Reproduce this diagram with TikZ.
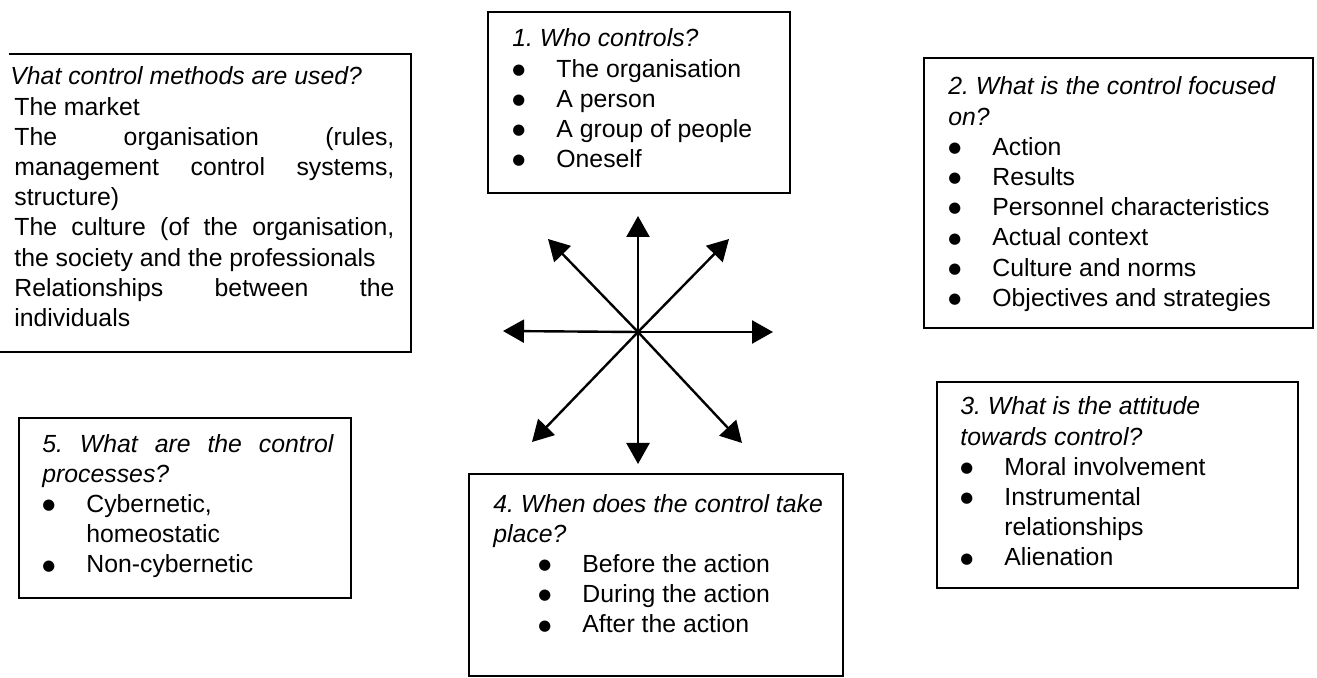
\documentclass[tikz,border=0pt]{standalone}
\usepackage{fontspec}
\setmainfont{Liberation Sans}
\newfontfamily\dotfont{DejaVu Sans}
\usetikzlibrary{arrows.meta}
\frenchspacing

% list helpers: a bullet with its hanging text, and a continuation line
\newcommand\bigdot{\raisebox{1.4pt}{\dotfont\fontsize{7.4}{7.4}\selectfont ●}}
\newcommand\bul[2][0pt]{\hspace*{#1}\makebox[22pt][l]{\bigdot}#2}
\newcommand\cont[1][0pt]{\hspace*{\dimexpr#1+22pt\relax}}
\newcommand\lh{\fontsize{12.4}{15.1}\selectfont}

\tikzset{
  boxline/.style={line width=1.1pt},
  txt/.style={anchor=base west, inner sep=0pt, font=\lh},
  spoke/.style={line width=1.2pt, -{Triangle[length=10.5pt,width=11.5pt]}},
}

\begin{document}
\begin{tikzpicture}[x=0.5pt, y=-0.5pt]
\useasboundingbox (0,0) rectangle (1317,678);

% ---- frames ----
\draw[boxline] (9,54) -| (411,352) -- (0,352);
\draw[boxline] (488,12) rectangle (790,193);
\draw[boxline] (924,58) rectangle (1313,328);
\draw[boxline] (937,382) rectangle (1298,588);
\draw[boxline] (469,474) rectangle (843,676);
\draw[boxline] (19,418) rectangle (351,598);

% ---- methods ----
\node[txt] (methods) at (14,85) {\parbox[t]{200pt}{\lh
\hspace*{-2pt}\textit{Vhat control methods are used?}\\
The market\\
\makebox[190pt][s]{The organisation (rules,}\\
\makebox[190pt][s]{management control systems,}\\
structure)\\
\makebox[190pt][s]{The culture (of the organisation,}\\
the society and the professionals\\
\makebox[190pt][s]{Relationships between the}\\
individuals}};

% ---- 1. who ----
\node[txt] (who) at (512,47) {\parbox[t]{140pt}{\lh
\textit{1. Who controls?}\\
\bul{The organisation}\\
\bul{A person}\\
\bul{A group of people}\\
\bul{Oneself}}};

% ---- 2. focus ----
\node[txt] (focus) at (948,95) {\parbox[t]{170pt}{\lh
\textit{2. What is the control focused}\\
\textit{on?}\\
\bul{Action}\\
\bul{Results}\\
\bul{Personnel characteristics}\\
\bul{Actual context}\\
\bul{Culture and norms}\\
\bul{Objectives and strategies}}};

% ---- 3. attitude ----
\node[txt] (attitude) at (960,415) {\parbox[t]{160pt}{\lh
\textit{3. What is the attitude}\\
\textit{towards control?}\\
\bul{Moral involvement}\\
\bul{Instrumental}\\
\cont relationships\\
\bul{Alienation}}};

% ---- 4. timing ----
\node[txt] (timing) at (493,512) {\parbox[t]{170pt}{\lh
\textit{4. When does the control take}\\
\textit{place?}\\
\bul[22.5pt]{Before the action}\\
\bul[22.5pt]{During the action}\\
\bul[22.5pt]{After the action}}};

% ---- 5. processes ----
\node[txt] (processes) at (42,452) {\parbox[t]{150pt}{\lh
\makebox[145.5pt][s]{\itshape 5. What are the control}\\
\textit{processes?}\\
\bul{Cybernetic,}\\
\cont homeostatic\\
\bul{Non-cybernetic}}};

% ---- central star of arrows ----
\coordinate (hub) at (638,332);
\coordinate (aN)  at (638,216);
\coordinate (aS)  at (638,464);
\coordinate (aW)  at (503,331);
\coordinate (aE)  at (773,332);
\coordinate (aNW) at (548,239);
\coordinate (aNE) at (729,239);
\coordinate (aSW) at (532,442);
\coordinate (aSE) at (742,443);
\foreach \t in {aN,aS,aW,aE,aNW,aNE,aSW,aSE}
  \draw[spoke] (hub) -- (\t);
\end{tikzpicture}
\end{document}
